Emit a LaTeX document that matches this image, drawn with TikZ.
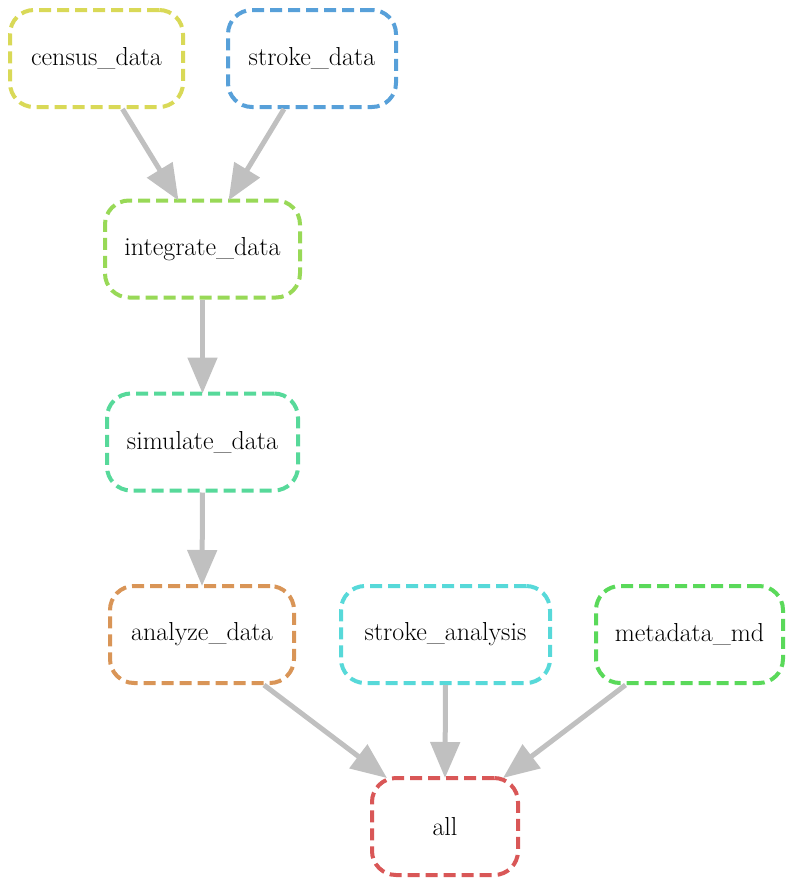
\documentclass[tikz,border=0pt]{standalone}
\usetikzlibrary{arrows.meta}
\definecolor{cCensus}{HTML}{D9D957}
\definecolor{cStroke}{HTML}{57A0D9}
\definecolor{cIntegrate}{HTML}{98D957}
\definecolor{cSimulate}{HTML}{57D99A}
\definecolor{cAnalyze}{HTML}{D99557}
\definecolor{cStrokeAn}{HTML}{57D9D9}
\definecolor{cMeta}{HTML}{5AD95A}
\definecolor{cAll}{HTML}{D95757}
\definecolor{edgegray}{HTML}{C0C0C0}
\tikzset{
  rulebox/.style={draw, rectangle, rounded corners=24pt, line width=4pt,
    dash pattern=on 12pt off 6pt, minimum height=97pt, inner sep=0pt,
    font=\fontsize{26}{30}\selectfont, fill=white},
  dep/.style={draw=edgegray, line width=5pt,
    -{Triangle[length=36pt,width=29pt,fill=edgegray]}}
}
\begin{document}
\begin{tikzpicture}[x=1pt,y=-1pt]
\useasboundingbox (0,0) rectangle (794,886);
\node[rulebox, draw=cCensus,    minimum width=173pt] (census)    at (96.5,58.5)  {census\_data};
\node[rulebox, draw=cStroke,    minimum width=168pt] (stroke)    at (312,58.5)   {stroke\_data};
\node[rulebox, draw=cIntegrate, minimum width=195pt] (integrate) at (202.5,249)  {integrate\_data};
\node[rulebox, draw=cSimulate,  minimum width=191pt] (simulate)  at (202.5,442)  {simulate\_data};
\node[rulebox, draw=cAnalyze,   minimum width=184pt] (analyze)   at (202,634.5)  {analyze\_data};
\node[rulebox, draw=cStrokeAn,  minimum width=209pt] (strokean)  at (445.5,634.5){stroke\_analysis};
\node[rulebox, draw=cMeta,      minimum width=187pt] (meta)      at (689.5,634.5){metadata\_md};
\node[rulebox, draw=cAll,       minimum width=146pt] (all)       at (445,826.5)  {all};

\draw[dep] ([xshift=26pt]census.south) -- ([xshift=-24pt,yshift=-2pt]integrate.north);
\draw[dep] ([xshift=-28pt]stroke.south) -- ([xshift=26pt,yshift=-2pt]integrate.north);
\draw[dep] (integrate.south) -- ([yshift=-2pt]simulate.north);
\draw[dep] (simulate.south) -- ([yshift=-2pt]analyze.north);
\draw[dep] ([xshift=62pt]analyze.south) -- ([xshift=-58pt,yshift=-2pt]all.north);
\draw[dep] (strokean.south) -- ([yshift=-2pt]all.north);
\draw[dep] ([xshift=-64pt]meta.south) -- ([xshift=58pt,yshift=-2pt]all.north);
\end{tikzpicture}
\end{document}
